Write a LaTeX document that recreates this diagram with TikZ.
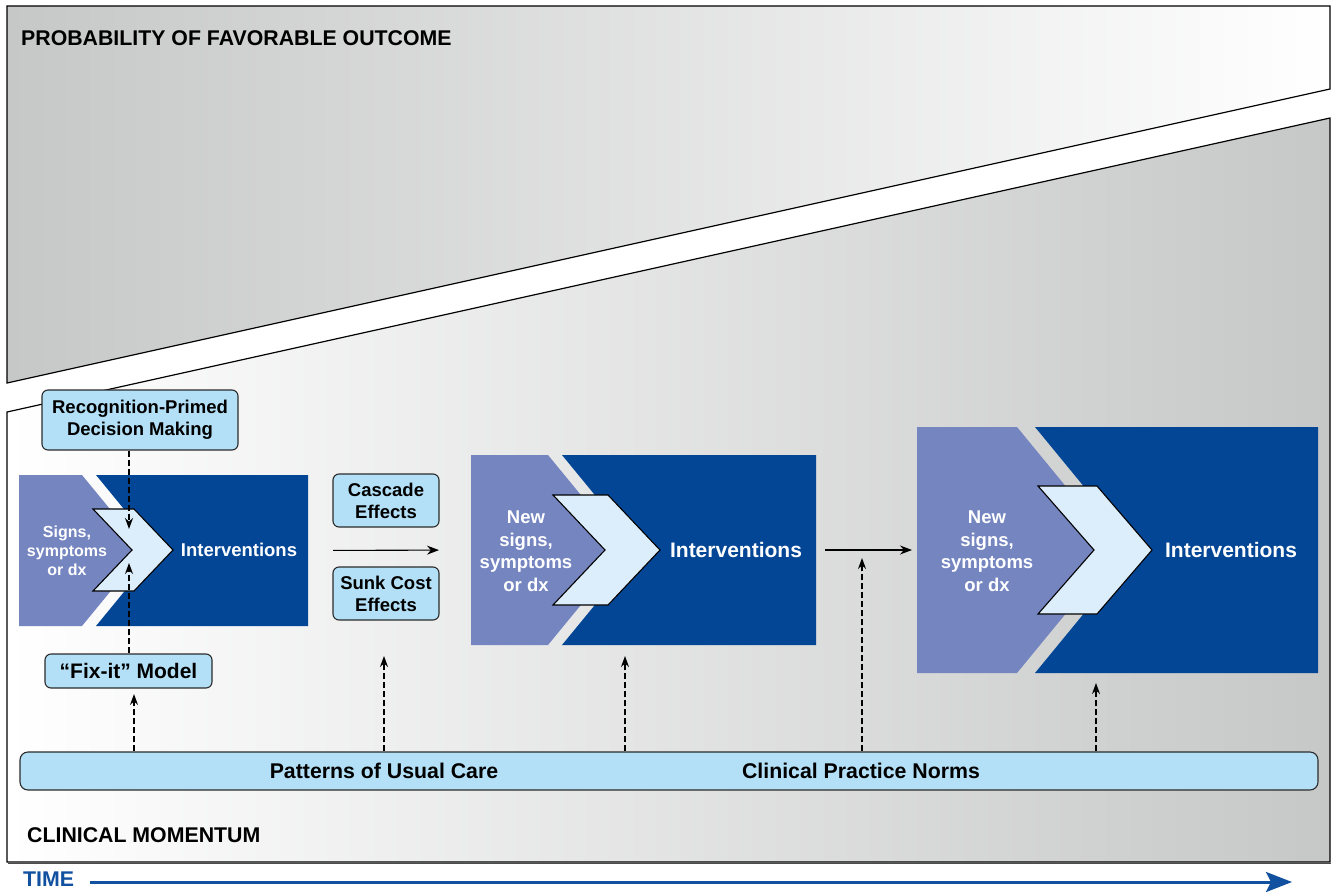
\documentclass[tikz,border=0pt]{standalone}
\usepackage{fontspec}
\setmainfont{Liberation Sans}
\usetikzlibrary{arrows.meta}

\definecolor{panelgray}{HTML}{C6C7C7}
\definecolor{darkblue}{HTML}{034696}
\definecolor{lilac}{HTML}{7585C0}
\definecolor{chevfill}{HTML}{DCEEFB}
\definecolor{boxfill}{HTML}{B3E0F6}
\definecolor{boxline}{HTML}{2B2B2B}
\definecolor{timeblue}{HTML}{12519F}

\tikzset{
  panelline/.style={draw=black, line width=1.2pt, line join=miter},
  labelbox/.style={draw=boxline, fill=boxfill, rounded corners=6pt, line width=1.1pt,
    align=center, inner sep=0pt, font=\bfseries\fontsize{18.5}{22}\selectfont},
  heading/.style={anchor=west, inner sep=0pt, font=\bfseries\fontsize{21.3}{25}\selectfont},
  barlabel/.style={inner sep=0pt, font=\bfseries\fontsize{21.3}{25}\selectfont},
  chevron/.style={draw=black, fill=chevfill, line width=1.1pt, line join=miter},
  blockframe/.style={inner sep=0pt, outer sep=0pt},
  whitetext/.style={text=white, align=center, inner sep=0pt},
  dasharrow/.style={draw=black, line width=1.2pt, dash pattern=on 6pt off 3pt,
    -{Stealth[length=11pt,width=8pt]}},
  solidarrow/.style={draw=black, line width=1.1pt, -{Stealth[length=12pt,width=9pt]}},
  timearrow/.style={draw=timeblue, line width=3pt, -{Stealth[length=26pt,width=20pt,inset=5pt]}}
}

\begin{document}
\begin{tikzpicture}[x=1pt,y=-1pt]
\useasboundingbox (0,0) rectangle (1335,891);
\fill[white] (0,0) rectangle (1335,891);

% upper panel: probability of favorable outcome
\shade[left color=panelgray, right color=white]
  (7,6) -- (1330,6) -- (1330,89) -- (7,383) -- cycle;
\draw[panelline] (7,6) -- (1330,6) -- (1330,89) -- (7,383) -- cycle;

% lower panel: clinical momentum
\shade[left color=white, right color=panelgray]
  (7,412) -- (1330,118) -- (1330,862) -- (7,862) -- cycle;
\draw[panelline] (7,412) -- (1330,118) -- (1330,862) -- (7,862) -- cycle;
\draw[black!70, line width=1pt] (8,863.5) -- (1331,863.5);

\node[heading] (title) at (21,38) {PROBABILITY OF FAVORABLE OUTCOME};
\node[heading] (momentum) at (27,835) {CLINICAL MOMENTUM};

% block frames
\node[blockframe, minimum width=289pt, minimum height=151pt] (b1) at (163.5,550.5) {};
\node[blockframe, minimum width=345pt, minimum height=190pt] (b2) at (643.5,550) {};
\node[blockframe, minimum width=401pt, minimum height=246pt] (b3) at (1117.5,550) {};

% block 1
\fill[lilac] (19,475) -- (82,475) -- (144,550.5) -- (82,626) -- (19,626) -- cycle;
\fill[darkblue] (96,475) -- (308,475) -- (308,626) -- (96,626) -- (158,550.5) -- cycle;
\draw[chevron] (93,509) -- (134,509) -- (173,550) -- (134,591) -- (93,591) -- (132,550) -- cycle;
\node[whitetext, font=\bfseries\fontsize{16}{19}\selectfont] (s1) at (67,551) {Signs,\\symptoms\\or dx};
\node[whitetext, font=\bfseries\fontsize{18.5}{22}\selectfont] (i1) at (239,550) {Interventions};

% block 2
\fill[lilac] (471,455) -- (548,455) -- (626,550) -- (548,645) -- (471,645) -- cycle;
\fill[darkblue] (562,455) -- (816,455) -- (816,645) -- (562,645) -- (640,550) -- cycle;
\draw[chevron] (553,495) -- (608,495) -- (660,550) -- (608,605) -- (553,605) -- (605,550) -- cycle;
\node[whitetext, font=\bfseries\fontsize{18.5}{22.5}\selectfont] (s2) at (526,551) {New\\signs,\\symptoms\\or dx};
\node[whitetext, font=\bfseries\fontsize{21}{25}\selectfont] (i2) at (736,550) {Interventions};

% block 3
\fill[lilac] (917,427) -- (1017,427) -- (1118,550) -- (1017,673) -- (917,673) -- cycle;
\fill[darkblue] (1035,427) -- (1318,427) -- (1318,673) -- (1035,673) -- (1136,550) -- cycle;
\draw[chevron] (1038,486) -- (1097,486) -- (1152,550) -- (1097,614) -- (1038,614) -- (1094,550) -- cycle;
\node[whitetext, font=\bfseries\fontsize{18.5}{22.5}\selectfont] (s3) at (987,551) {New\\signs,\\symptoms\\or dx};
\node[whitetext, font=\bfseries\fontsize{21}{25}\selectfont] (i3) at (1231,550) {Interventions};

% influence boxes
\node[labelbox, minimum width=196pt, minimum height=60pt] (rpdm) at (140,420) {Recognition-Primed\\Decision Making};
\node[labelbox, minimum width=167pt, minimum height=34pt, font=\bfseries\fontsize{21}{25}\selectfont] (fix) at (128.5,671) {“Fix-it” Model};
\node[labelbox, minimum width=106pt, minimum height=53pt] (cascade) at (386,500.5) {Cascade\\Effects};
\node[labelbox, minimum width=106pt, minimum height=53pt] (sunk) at (386,593.5) {Sunk Cost\\Effects};
\node[labelbox, rounded corners=8pt, minimum width=1298pt, minimum height=38pt] (bar) at (669,771) {};
\node[barlabel] (usual) at (384,771) {Patterns of Usual Care};
\node[barlabel] (norms) at (861,771) {Clinical Practice Norms};

% progression arrows between blocks
\draw[solidarrow, shorten <=25pt, shorten >=32pt] (b1.east) -- (b2.west);
\draw[solidarrow, shorten <=9pt, shorten >=5pt] (b2.east) -- (b3.west);

% dashed influence arrows
\coordinate (c1top) at (129,529);
\coordinate (c1bot) at (129,563);
\coordinate (fixin) at (134,694);
\coordinate (sunkin) at (384,656);
\coordinate (b2in) at (625,656);
\coordinate (arrowin) at (862,558);
\coordinate (b3in) at (1096,683);

\draw[dasharrow] (rpdm.south -| c1top) -- (c1top);
\draw[dasharrow] (fix.north -| c1bot) -- (c1bot);
\draw[dasharrow] (bar.north -| fixin) -- (fixin);
\draw[dasharrow] (bar.north -| sunkin) -- (sunkin);
\draw[dasharrow] (bar.north -| b2in) -- (b2in);
\draw[dasharrow] (bar.north -| arrowin) -- (arrowin);
\draw[dasharrow] (bar.north -| b3in) -- (b3in);

% time axis
\node[heading, text=timeblue] (time) at (23,879.5) {TIME};
\coordinate (timeend) at (1292,882);
\draw[timearrow, shorten <=16pt] (time.east |- timeend) -- (timeend);
\end{tikzpicture}
\end{document}
